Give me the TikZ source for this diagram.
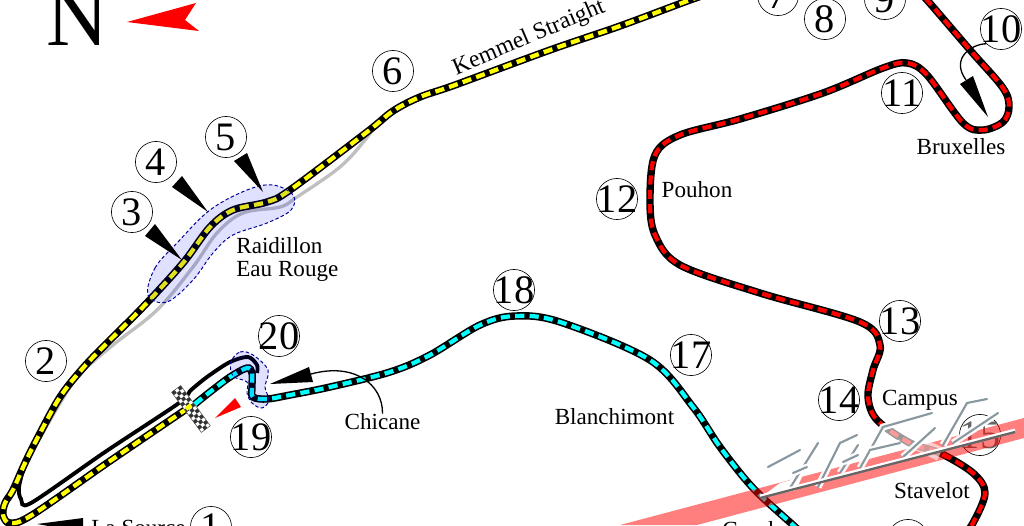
\documentclass[tikz,border=0pt]{standalone}
\usepackage{fontspec}
\setmainfont{Liberation Serif}
\usepackage{xcolor}
\usepackage{tikz}
\usetikzlibrary{positioning,calc}
\definecolor{sectoryellow}{HTML}{FFFF00}
\definecolor{sectorred}{HTML}{FF0000}
\definecolor{sectorcyan}{HTML}{00FFFF}
\newcommand{\turnno}[1]{\makebox[0pt]{#1}}
\tikzset{
	turnnum/.style={circle, draw=black, line width=0.35pt, minimum size=23.4pt, inner sep=0, font=\fontsize{23}{23}\selectfont},
	placelabel/.style={inner sep=0, font=\fontsize{13.15}{13.2}\selectfont, align=left},
	sector/.style={draw=#1, line width=2.4pt, dash pattern=on 5.2pt off 3pt, preaction={draw=black, solid, line width=4.2pt}},
	blob/.style={draw=blue!60!black, fill=blue, fill opacity=0.12, line width=0.55pt, dash pattern=on 2pt off 1.3pt},
	wedge/.style={fill=black, draw=none},
	sideline/.style={draw=black!25, line width=1.9pt},
	logostroke/.style={draw=gray!85!cyan, line width=1.2pt, line cap=round, preaction={draw=white, line width=4pt, opacity=0.95}},
}
\begin{document}
\begin{tikzpicture}[x=0.02cm, y=-0.02cm]
	\useasboundingbox (0,0) rectangle (1024,525);
	\clip (0,0) rectangle (1024,525);
	% grey line beside the track
	\draw[sideline] plot[smooth, tension=0.6] coordinates {(37,443) (62,400) (80,374) (113,345) (157,310) (193,267) (217,233) (243,213) (280,207) (297,197) (340,167) (365,140) (373,128)};
	% inner lane
	\draw[black, line width=2.2pt] plot[smooth, tension=0.5] coordinates {(25,463) (19,487) (21,499) (31,503) (105,452) (179,403) (190,391) (207,377) (230,362) (248,357) (257,365) (257,373)};
	% the three sectors
	\draw[sector=sectoryellow] plot[smooth, tension=0.55] coordinates {(188,408) (110,461) (32,515) (10,523) (3,515) (5,503) (13,490) (25,463) (38,437) (60,397) (83,368) (107,343) (143,307) (183,263) (210,227) (233,210) (267,202) (290,190) (367,132) (393,111) (420,97) (455,85) (550,50) (620,26) (690,0) (720,-10)};
	\draw[sector=sectorred] plot[smooth, tension=0.55] coordinates {(915,-12) (927,0) (970,50) (1003,88) (1009,107) (1003,122) (983,130) (963,123) (927,75) (907,63) (883,68) (823,93) (740,119) (680,135) (655,155) (650,200) (655,235) (680,265) (760,293) (860,322) (880,345) (873,370) (868,397) (877,420) (910,443) (940,453) (973,473) (985,493) (973,523) (960,540)};
	\draw[sector=sectorcyan] plot[smooth, tension=0.55] coordinates {(195,404) (210,392) (230,377) (247,368) (252,373) (252,387) (253,397) (267,399) (290,395) (330,387) (390,372) (430,355) (480,325) (515,316) (560,322) (650,360) (693,407) (720,447) (753,488) (793,525) (810,540)};
	% shaded zones
	\draw[blob] plot[smooth cycle, tension=0.6] coordinates {(148,295) (155,268) (177,243) (210,210) (247,190) (273,185) (293,195) (291,210) (267,223) (233,235) (213,253) (193,280) (167,302)};
	\draw[blob] plot[smooth cycle, tension=0.6] coordinates {(231,362) (240,352) (253,355) (268,370) (265,387) (269,400) (262,408) (252,403) (247,393) (247,382) (233,376)};
	% start line flag
	\begin{scope}[shift={(191,409)}, rotate=-53.5]
		\fill[white] (-25,-5.6) rectangle (25,5.6);
		\foreach \col in {0,...,13} {
			\foreach \row in {0,1,2} {
				\pgfmathparse{int(mod(\col+\row,2))}
				\ifnum\pgfmathresult=0
					\fill[black!80] ({-25+\col*3.57},{-5.6+\row*3.74}) rectangle ++(3.57,3.74);
				\fi
			}
		}
		\draw[black!70, line width=0.3pt] (-25,-5.6) rectangle (25,5.6);
	\end{scope}
	\draw[sectoryellow, line width=2.4pt] (186,409) -- (191,405);
	\draw[sectorcyan, line width=2.4pt] (195,404) -- (201,399);
	% north sign
	\node[inner sep=0, anchor=base, font=\fontsize{49}{49}\selectfont] (north) at (78,45) {N};
	\fill[red] (127,22) -- (196,3) -- (185,20) -- (199,31) -- cycle;
	\fill[red] (215,418) -- (235,398) -- (241,407) -- cycle;
	% pointers
	\coordinate (tipa) at (37,524);
	\coordinate (tipc) at (182,260);
	\coordinate (tipd) at (208,212);
	\coordinate (tipe) at (263,192);
	\coordinate (tipj) at (988,117);
	\coordinate (tipk) at (270,384);
	\fill[wedge] (tipa) -- (83,518) -- (83,532) -- cycle;
	\fill[wedge] (tipc) -- (145,236) -- (155,224) -- cycle;
	\fill[wedge] (tipd) -- (172,187) -- (182,176) -- cycle;
	\fill[wedge] (tipe) -- (234,161) -- (247,153) -- cycle;
	\fill[wedge] (tipj) -- (960,84) -- (973,76) -- cycle;
	\fill[wedge] (tipk) -- (309,367) -- (313,382) -- cycle;
	% turn numbers
	\node[turnnum] (n1) at (211,527) {\turnno{1}};
	\node[turnnum] (n2) at (46,361) {\turnno{2}};
	\node[turnnum] (n3) at (132,212) {\turnno{3}};
	\node[turnnum] (n4) at (156,162) {\turnno{4}};
	\node[turnnum] (n5) at (226,137) {\turnno{5}};
	\node[turnnum] (n6) at (393,71) {\turnno{6}};
	\node[turnnum] (n7) at (778,-5) {\turnno{7}};
	\node[turnnum] (n8) at (825,19) {\turnno{8}};
	\node[turnnum] (n9) at (885,-1) {\turnno{9}};
	\node[turnnum] (n10) at (1001,29) {\turnno{10}};
	\node[turnnum] (n11) at (902,93) {\turnno{11}};
	\node[turnnum] (n12) at (617,199) {\turnno{12}};
	\node[turnnum] (n13) at (900,321) {\turnno{13}};
	\node[turnnum] (n14) at (839,400) {\turnno{14}};
	\node[turnnum] (n16) at (908,540) {};
	\node[turnnum] (n17) at (691,355) {\turnno{17}};
	\node[turnnum] (n18) at (514,290) {\turnno{18}};
	\node[turnnum] (n19) at (251,437) {\turnno{19}};
	\node[turnnum] (n20) at (279,336) {\turnno{20}};
	\node[turnnum, text=black!60] (n15) at (980,435) {\turnno{15}};
	% place names
	\node[placelabel, rotate=23, font=\fontsize{13.5}{13.5}\selectfont] (kemmel) at (529,38) {Kemmel Straight};
	\node[placelabel, anchor=west] (raidillon) at (236,259.5) {Raidillon\\Eau Rouge};
	\node[placelabel] (chicane) at (382.5,422) {Chicane};
	\node[placelabel] (blanchimont) at (614.5,417) {Blanchimont};
	\node[placelabel] (pouhon) at (697,190) {Pouhon};
	\node[placelabel] (bruxelles) at (961,147) {Bruxelles};
	\node[placelabel] (campus) at (920,400) {Campus};
	\node[placelabel] (stavelot) at (932,491) {Stavelot};
	\node[placelabel, anchor=west] (lasource) at (91,528) {La Source};
	\node[placelabel, anchor=base west] (courbe) at (722,537) {Courbe};
	% curved leaders
	\draw[black, line width=0.75pt] (chicane.north) .. controls (383,385) and (355,362) .. (311,374);
	\draw[black, line width=0.75pt] (n10.south west) .. controls (972,44) and (950,58) .. (966,80);
	% red band and logo on top
	\fill[red, opacity=0.5] (620,525) -- (1024,418) -- (1024,438) -- (697,525) -- cycle;
	\draw[white, opacity=0.6, line width=8pt] (884,428) -- (940,454);
	\fill[white] (760,498) -- (780,483) -- (802,477) -- (796,490) -- cycle;
	\draw[logostroke] (768,467) -- (800,450);
	\draw[logostroke] (790,488) -- (818,443);
	\draw[logostroke] (793,473) -- (807,467);
	\draw[logostroke] (818,487) -- (840,443) -- (857,435);
	\draw[logostroke] (840,473) -- (858,445);
	\draw[logostroke] (843,462) -- (858,455);
	\draw[logostroke] (860,468) -- (883,427) -- (932,413);
	\draw[logostroke] (870,450) -- (900,443);
	\draw[logostroke] (903,457) -- (935,428);
	\draw[logostroke] (943,445) -- (967,403) -- (987,399);
	\draw[logostroke] (953,443) -- (998,413);
	\draw[white, line width=1.6pt] (760,496) -- (1015,430);
	\draw[black!60, line width=1.3pt] (760,498) -- (1015,432);
\end{tikzpicture}
\end{document}
